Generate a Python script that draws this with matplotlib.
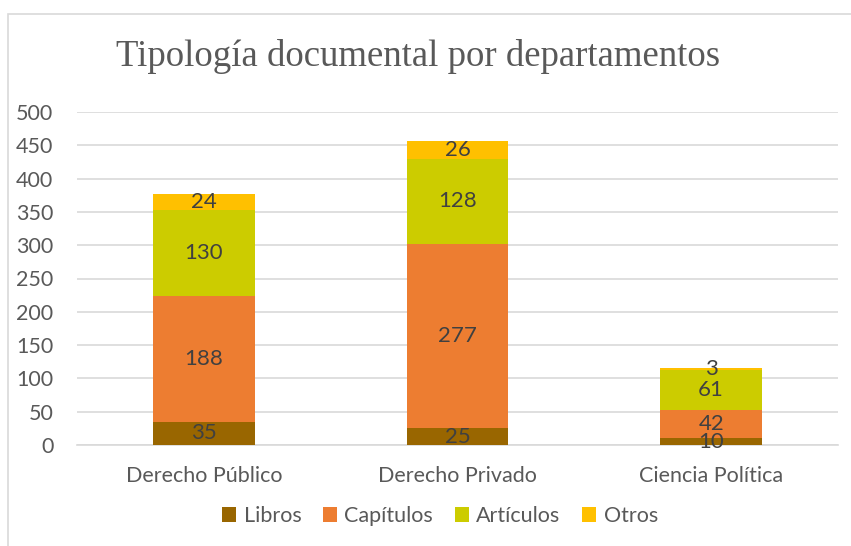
import matplotlib
matplotlib.use("Agg")
import matplotlib.pyplot as plt
from matplotlib.patches import Rectangle
import numpy as np

categories = ["Derecho Público", "Derecho Privado", "Ciencia Política"]
series_names = ["Libros", "Capítulos", "Artículos", "Otros"]
libros = [35, 25, 10]
capitulos = [188, 277, 42]
articulos = [130, 128, 61]
otros = [24, 26, 3]
colors = ["#996600", "#ED7D31", "#CCCC00", "#FFC000"]
yticks = [0, 50, 100, 150, 200, 250, 300, 350, 400, 450, 500]

W, H = 851, 546
fig = plt.figure(figsize=(W / 100, H / 100), dpi=100)
fig.patches.append(Rectangle((8 / W, -0.1), 1.2, 1 - 14 / H + 0.1, transform=fig.transFigure,
                             fill=False, edgecolor="#D9D9D9", linewidth=1.2))

ax = fig.add_axes([77 / W, 1 - 445 / H, (838 - 77) / W, (445 - 112) / H])
sans = ["Lato", "DejaVu Sans"]
fs = 15.5

x = np.arange(len(categories))
bottom = np.zeros(len(categories))
for name, vals, c in zip(series_names, [libros, capitulos, articulos, otros], colors):
    vals = np.array(vals, dtype=float)
    ax.bar(x, vals, 0.4, bottom=bottom, color=c, label=name, zorder=3)
    for xi, b, v in zip(x, bottom, vals):
        ax.text(xi, b + v / 2, f"{int(v)}", ha="center", va="center", fontsize=fs + 0.5,
                color="#404040", family=sans, zorder=4)
    bottom += vals

ax.set_xlim(-0.5, 2.5)
ax.set_ylim(0, 500)
ax.set_yticks(yticks)
ax.set_yticklabels([str(t) for t in yticks], family=sans, fontsize=fs, color="#595959")
ax.set_xticks(x)
ax.set_xticklabels(categories, family=sans, fontsize=fs, color="#595959")
ax.tick_params(axis="both", length=0)
ax.tick_params(axis="y", pad=17)
ax.tick_params(axis="x", pad=15)
ax.grid(axis="y", color="#D9D9D9", linewidth=1.2, zorder=0)
for s in ["top", "right", "left"]:
    ax.spines[s].set_visible(False)
ax.spines["bottom"].set_color("#D9D9D9")
ax.spines["bottom"].set_linewidth(1.2)

fig.text(418 / W, 1 - 57 / H, "Tipología documental por departamentos", ha="center", va="center",
         fontsize=26.5, color="#595959", family=["Liberation Serif", "DejaVu Serif"])

leg = fig.legend(loc="center", bbox_to_anchor=(440 / W, 1 - 516 / H), ncol=4, frameon=False,
                 prop={"family": sans, "size": fs}, handlelength=0.65, handleheight=0.65,
                 columnspacing=1.0, handletextpad=0.35)
for t in leg.get_texts():
    t.set_color("#595959")

fig.savefig("out.png", dpi=100)
